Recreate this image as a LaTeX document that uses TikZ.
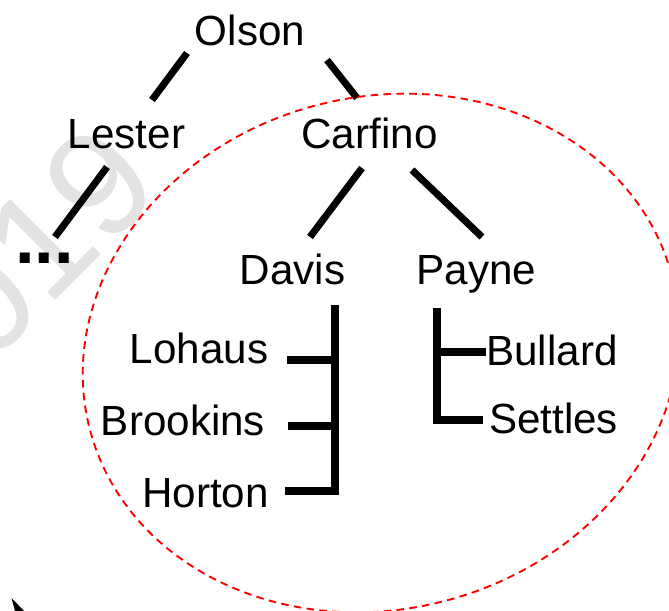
\documentclass[tikz,border=0pt]{standalone}
\usepackage{fontspec}
\setmainfont{Liberation Sans}
\begin{document}
\begin{tikzpicture}[x=0.03cm,y=0.03cm,
  person/.style={inner sep=0pt, anchor=base, font=\fontsize{36}{40}\selectfont},
  bar/.style={line width=6pt, line cap=butt, line join=miter},
  group/.style={draw=red, line width=1.6pt, dash pattern=on 6.5pt off 4.5pt}]
\useasboundingbox (0,0) rectangle (669,-610);

% faint year mark behind everything
\begin{scope}
  \clip (0,0) rectangle (669,-610);
  \node[rotate=45, anchor=base west, inner sep=0pt, text=black!11,
        font=\fontsize{128}{130}\selectfont] (year) at (-71,-427) {2019};
\end{scope}

% names
\node[person] (olson)    at (250,-45)   {Olson};
\node[person] (lester)   at (126.5,-148) {Lester};
\node[person] (carfino)  at (369.5,-148) {Carfino};
\node[person] (davis)    at (292.5,-284) {Davis};
\node[person] (payne)    at (476.5,-284) {Payne};
\node[person] (lohaus)   at (199,-363)  {Lohaus};
\node[person] (brookins) at (183,-435)  {Brookins};
\node[person] (horton)   at (205.5,-507) {Horton};
\node[person] (bullard)  at (552,-365)  {Bullard};
\node[person] (settles)  at (553.5,-433) {Settles};
\node[inner sep=0pt, anchor=base west, font=\bfseries\fontsize{60}{60}\selectfont]
  (more) at (15,-263) {...};

% ends of the tree links
\coordinate (ol-a) at (187,-53);  \coordinate (ol-b) at (152,-100);
\coordinate (oc-a) at (327,-60);  \coordinate (oc-b) at (357,-98);
\coordinate (lm-a) at (107,-167); \coordinate (lm-b) at (55,-237);
\coordinate (cd-a) at (362,-168); \coordinate (cd-b) at (310,-237);
\coordinate (cp-a) at (412,-170); \coordinate (cp-b) at (482,-237);

\draw[bar] (ol-a) -- (ol-b);
\draw[bar] (oc-a) -- (oc-b);
\draw[bar] (lm-a) -- (lm-b);
\draw[bar] (cd-a) -- (cd-b);
\draw[bar] (cp-a) -- (cp-b);

% Davis bracket
\coordinate (d-top) at (335,-305);
\coordinate (d-bot) at (335,-491);
\draw[bar] (d-top) -- (d-bot) -- (285,-491);
\draw[bar] (287,-360) -- (335,-360);
\draw[bar] (288,-426) -- (335,-426);

% Payne bracket
\coordinate (p-top) at (437,-308);
\coordinate (p-bot) at (437,-420);
\draw[bar] (p-top) -- (p-bot) -- (483,-420);
\draw[bar] (437,-352) -- (486,-352);

% dashed outline round the Carfino branch
\draw[group] (381,-353) ellipse [x radius=301, y radius=256, rotate=15];

% arrow tip at the lower left corner
\fill (11.5,-598) -- (24,-611) -- (15,-611) -- cycle;
\end{tikzpicture}
\end{document}
